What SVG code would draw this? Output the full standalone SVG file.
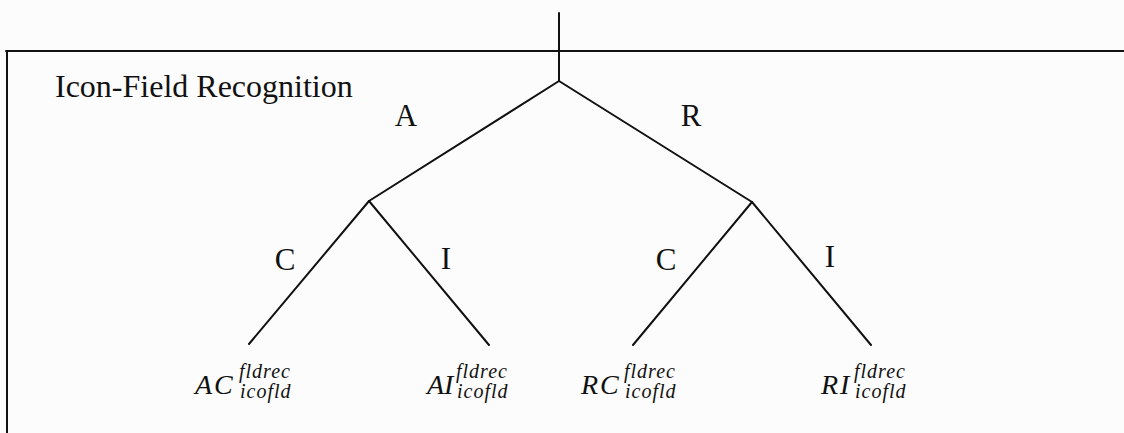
<svg xmlns="http://www.w3.org/2000/svg" width="1124" height="433" viewBox="0 0 1124 433">
<style>
.ln{stroke:#111;stroke-width:2;fill:none;stroke-linecap:round}
.t{font-family:"Liberation Serif","Times New Roman",serif;fill:#111}
.lab{font-family:"Liberation Serif","Times New Roman",serif;font-size:31px;fill:#111;text-anchor:middle}
.m{font-family:"Liberation Serif","Times New Roman",serif;font-style:italic;fill:#111}
.big{font-size:28px;letter-spacing:2px}
.sc{font-size:20px;letter-spacing:1px}
</style>
<rect width="1124" height="433" fill="#fcfcfc"/>
<g id="frame">
<line class="ln" x1="6" y1="51" x2="1124" y2="51"/>
<line class="ln" x1="7" y1="51" x2="7" y2="433"/>
</g>
<text id="title" class="t" x="55" y="97" font-size="32">Icon-Field Recognition</text>
<g id="connectors">
<line class="ln" x1="559" y1="13" x2="559" y2="81"/>
<line class="ln" x1="559" y1="81" x2="369" y2="201"/>
<line class="ln" x1="559" y1="81" x2="752" y2="202"/>
<line class="ln" x1="369" y1="201" x2="249" y2="344"/>
<line class="ln" x1="369" y1="201" x2="489" y2="345"/>
<line class="ln" x1="752" y1="202" x2="633" y2="345"/>
<line class="ln" x1="752" y1="202" x2="871" y2="345"/>
<text class="lab" x="406" y="126" font-size="32">A</text>
<text class="lab" x="691" y="126" font-size="32">R</text>
<text class="lab" x="285" y="270">C</text>
<text class="lab" x="446" y="269">I</text>
<text class="lab" x="666" y="270">C</text>
<text class="lab" x="830" y="267">I</text>
</g>
<g id="leaf-AC">
<text class="m big" x="195" y="394">AC</text>
<text class="m sc" x="239" y="378">fldrec</text>
<text class="m sc" x="240" y="398">icofld</text>
</g>
<g id="leaf-AI">
<text class="m" x="427" y="394" font-size="28">AI</text>
<text class="m sc" x="456" y="378">fldrec</text>
<text class="m sc" x="457" y="398">icofld</text>
</g>
<g id="leaf-RC">
<text class="m big" x="581" y="394">RC</text>
<text class="m sc" x="624" y="378">fldrec</text>
<text class="m sc" x="625" y="398">icofld</text>
</g>
<g id="leaf-RI">
<text class="m big" x="821" y="394">RI</text>
<text class="m sc" x="854" y="378">fldrec</text>
<text class="m sc" x="855" y="398">icofld</text>
</g>
</svg>
